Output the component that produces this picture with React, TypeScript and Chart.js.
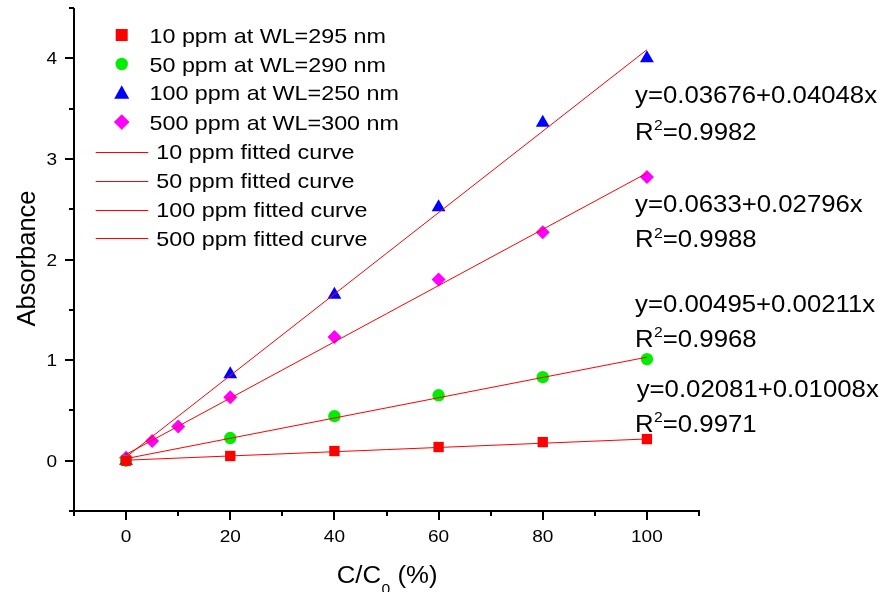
import React, { useEffect, useRef } from 'react';
import { Chart, registerables } from 'chart.js';

Chart.register(...registerables);

// ---------- data ----------
const conc = [0, 20, 40, 60, 80, 100];
const conc500 = [0, 5, 10, 20, 40, 60, 80, 100];
const abs10 = [0.0, 0.047, 0.096, 0.136, 0.185, 0.215];
const abs50 = [0.0, 0.225, 0.443, 0.65, 0.83, 1.01];
const abs100 = [0.0, 0.86, 1.65, 2.52, 3.36, 4.0];
const abs500 = [0.03, 0.195, 0.34, 0.63, 1.23, 1.8, 2.27, 2.82];

const fitX = [0, 100];
const fit10 = [0.005, 0.216];
const fit50 = [0.021, 1.029];
const fit100 = [0.037, 4.085];
const fit500 = [0.063, 2.859];

const seriesLabels = [
  '10 ppm at WL=295 nm',
  '50 ppm at WL=290 nm',
  '100 ppm at WL=250 nm',
  '500 ppm at WL=300 nm',
];
const fitLabels = [
  '10 ppm fitted curve',
  '50 ppm fitted curve',
  '100 ppm fitted curve',
  '500 ppm fitted curve',
];
const equationTexts = [
  'y=0.03676+0.04048x',
  'y=0.0633+0.02796x',
  'y=0.00495+0.00211x',
  'y=0.02081+0.01008x',
];
const r2Texts = ['=0.9982', '=0.9988', '=0.9968', '=0.9971'];

const xMajorTicks = [0, 20, 40, 60, 80, 100];
const xMinorTicks = [-10, 10, 30, 50, 70, 90, 110];
const xTickLabels = ['0', '20', '40', '60', '80', '100'];
const yMajorTicks = [0, 1, 2, 3, 4];
const yMinorTicks = [-0.5, 0.5, 1.5, 2.5, 3.5, 4.5];
const yTickLabels = ['0', '1', '2', '3', '4'];

const xTitleMain = 'C/C';
const xTitleSub = '0';
const xTitleTail = ' (%)';
const yTitle = 'Absorbance';

// ---------- styles ----------
const RED = '#ff0000';
const GREEN = '#00ee00';
const BLUE = '#0000ff';
const MAGENTA = '#ff00ff';
const FONT = '"Liberation Sans", Arial, Helvetica, sans-serif';

const toPts = (xs: number[], ys: number[]) => xs.map((x, i) => ({ x, y: ys[i] }));

function stretchText(
  ctx: CanvasRenderingContext2D,
  text: string,
  x: number,
  y: number,
  size: number,
  sx: number,
  align: 'left' | 'center' | 'right' = 'left'
) {
  ctx.save();
  ctx.font = `${size}px ${FONT}`;
  ctx.textBaseline = 'alphabetic';
  ctx.textAlign = 'left';
  const w = ctx.measureText(text).width * sx;
  const x0 = align === 'left' ? x : align === 'center' ? x - w / 2 : x - w;
  ctx.translate(x0, y);
  ctx.scale(sx, 1);
  ctx.fillStyle = '#000';
  ctx.fillText(text, 0, 0);
  ctx.restore();
  return w;
}

function drawMarker(ctx: CanvasRenderingContext2D, kind: string, x: number, y: number, color: string) {
  ctx.save();
  ctx.fillStyle = color;
  ctx.beginPath();
  if (kind === 'rect') {
    ctx.rect(x - 6, y - 6, 12, 12);
  } else if (kind === 'circle') {
    ctx.arc(x, y, 6.2, 0, Math.PI * 2);
  } else if (kind === 'triangle') {
    ctx.moveTo(x, y - 7.5);
    ctx.lineTo(x + 7.5, y + 6);
    ctx.lineTo(x - 7.5, y + 6);
    ctx.closePath();
  } else {
    ctx.moveTo(x, y - 7.8);
    ctx.lineTo(x + 7.8, y);
    ctx.lineTo(x, y + 7.8);
    ctx.lineTo(x - 7.8, y);
    ctx.closePath();
  }
  ctx.fill();
  ctx.restore();
}

const decorPlugin = {
  id: 'decor',
  beforeDraw(chart: any) {
    const ctx = chart.ctx as CanvasRenderingContext2D;
    ctx.save();
    ctx.fillStyle = '#ffffff';
    ctx.fillRect(0, 0, chart.width, chart.height);
    ctx.restore();
  },
  afterDraw(chart: any) {
    const ctx = chart.ctx as CanvasRenderingContext2D;
    const area = chart.chartArea;
    const xs = chart.scales.x;
    const ys = chart.scales.y;

    ctx.save();
    ctx.strokeStyle = '#000';
    ctx.lineWidth = 2;
    ctx.lineCap = 'butt';
    // axis lines
    ctx.beginPath();
    ctx.moveTo(area.left, area.top);
    ctx.lineTo(area.left, area.bottom + 1);
    ctx.moveTo(area.left - 1, area.bottom);
    ctx.lineTo(area.right + 1, area.bottom);
    ctx.stroke();

    // ticks
    ctx.beginPath();
    yMajorTicks.forEach((v) => {
      const p = Math.round(ys.getPixelForValue(v));
      ctx.moveTo(area.left, p);
      ctx.lineTo(area.left - 9, p);
    });
    yMinorTicks.forEach((v) => {
      const p = Math.round(ys.getPixelForValue(v));
      ctx.moveTo(area.left, p);
      ctx.lineTo(area.left - 5, p);
    });
    xMajorTicks.forEach((v) => {
      const p = Math.round(xs.getPixelForValue(v));
      ctx.moveTo(p, area.bottom);
      ctx.lineTo(p, area.bottom + 9);
    });
    xMinorTicks.forEach((v) => {
      const p = Math.round(xs.getPixelForValue(v));
      ctx.moveTo(p, area.bottom);
      ctx.lineTo(p, area.bottom + 5);
    });
    ctx.stroke();
    ctx.restore();

    // tick labels
    yMajorTicks.forEach((v, i) => {
      const p = ys.getPixelForValue(v);
      stretchText(ctx, yTickLabels[i], area.left - 17, p + 6.1, 17, 1.12, 'right');
    });
    xMajorTicks.forEach((v, i) => {
      const p = xs.getPixelForValue(v);
      stretchText(ctx, xTickLabels[i], p, area.bottom + 31, 17, 1.12, 'center');
    });

    // x title
    let tx = 336.7;
    tx += stretchText(ctx, xTitleMain, tx, 583.3, 23, 1.12);
    tx += stretchText(ctx, xTitleSub, tx + 0.5, 594, 14, 1.12) + 0.5;
    stretchText(ctx, xTitleTail, tx, 583.3, 23, 1.12);

    // y title
    ctx.save();
    ctx.translate(35, 258.5);
    ctx.rotate(-Math.PI / 2);
    ctx.font = `25.5px ${FONT}`;
    ctx.fillStyle = '#000';
    ctx.textAlign = 'center';
    ctx.textBaseline = 'alphabetic';
    ctx.fillText(yTitle, 0, 0);
    ctx.restore();

    // legend
    const markerKinds = ['rect', 'circle', 'triangle', 'rectRot'];
    const markerColors = [RED, GREEN, BLUE, MAGENTA];
    const rowsA = [35, 64, 92.8, 122];
    seriesLabels.forEach((lab, i) => {
      drawMarker(ctx, markerKinds[i], 121.7, rowsA[i], markerColors[i]);
      stretchText(ctx, lab, 149.5, rowsA[i] + 7.5, 21, 1.11);
    });
    const rowsB = [151.7, 180.5, 209.5, 238.3];
    fitLabels.forEach((lab, i) => {
      ctx.save();
      ctx.strokeStyle = RED;
      ctx.lineWidth = 1;
      ctx.beginPath();
      ctx.moveTo(95.7, Math.round(rowsB[i]) + 0.5);
      ctx.lineTo(148.3, Math.round(rowsB[i]) + 0.5);
      ctx.stroke();
      ctx.restore();
      stretchText(ctx, lab, 156.3, rowsB[i] + 7.5, 21, 1.11);
    });

    // equations
    const eqRows = [95, 204, 304, 388.3];
    const r2Rows = [131.7, 239, 338.3, 423.3];
    equationTexts.forEach((t, i) => {
      const ex = i === 3 ? 636.7 : 635;
      stretchText(ctx, t, ex, eqRows[i] + 8.3, 23, 1.12);
      let rx = 635;
      rx += stretchText(ctx, 'R', rx, r2Rows[i] + 8.3, 23, 1.12);
      rx += stretchText(ctx, '2', rx + 0.5, r2Rows[i] - 1.5, 14, 1.12) + 0.5;
      stretchText(ctx, r2Texts[i], rx, r2Rows[i] + 8.3, 23, 1.12);
    });
  },
};

export default function App() {
  const ref = useRef<HTMLCanvasElement | null>(null);

  useEffect(() => {
    if (!ref.current) return;
    const scatterBase = { pointBorderWidth: 0, showLine: false, order: 2 };
    const fitBase = {
      type: 'line' as const,
      borderColor: RED,
      borderWidth: 1,
      pointRadius: 0,
      showLine: true,
      fill: false,
      tension: 0,
      order: 1,
    };
    const chart = new Chart(ref.current, {
      type: 'scatter',
      data: {
        datasets: [
          { ...fitBase, label: fitLabels[0], data: toPts(fitX, fit10) },
          { ...fitBase, label: fitLabels[1], data: toPts(fitX, fit50) },
          { ...fitBase, label: fitLabels[2], data: toPts(fitX, fit100) },
          { ...fitBase, label: fitLabels[3], data: toPts(fitX, fit500) },
          {
            ...scatterBase,
            label: seriesLabels[0],
            data: toPts(conc, abs10),
            pointStyle: 'rect',
            pointRadius: 7.3,
            backgroundColor: RED,
            borderColor: RED,
          },
          {
            ...scatterBase,
            label: seriesLabels[1],
            data: toPts(conc, abs50),
            pointStyle: 'circle',
            pointRadius: 6.2,
            backgroundColor: GREEN,
            borderColor: GREEN,
          },
          {
            ...scatterBase,
            label: seriesLabels[2],
            data: toPts(conc, abs100),
            pointStyle: 'triangle',
            pointRadius: 8,
            backgroundColor: BLUE,
            borderColor: BLUE,
          },
          {
            ...scatterBase,
            label: seriesLabels[3],
            data: toPts(conc500, abs500),
            pointStyle: 'rectRot',
            pointRadius: 7,
            backgroundColor: MAGENTA,
            borderColor: MAGENTA,
          },
        ] as any,
      },
      options: {
        animation: false,
        responsive: false,
        devicePixelRatio: 1,
        layout: { padding: { left: 74, right: 185, top: 7, bottom: 81 } },
        scales: {
          x: { type: 'linear', min: -10, max: 110, display: false },
          y: { type: 'linear', min: -0.5, max: 4.5, display: false },
        },
        plugins: {
          legend: { display: false },
          tooltip: { enabled: false },
        },
      },
      plugins: [decorPlugin],
    });
    return () => chart.destroy();
  }, []);

  return (
    <div style={{ position: 'fixed', left: 0, top: 0, width: 884, height: 592, background: '#fff' }}>
      <canvas ref={ref} width={884} height={592} style={{ display: 'block', width: 884, height: 592 }} />
    </div>
  );
}
